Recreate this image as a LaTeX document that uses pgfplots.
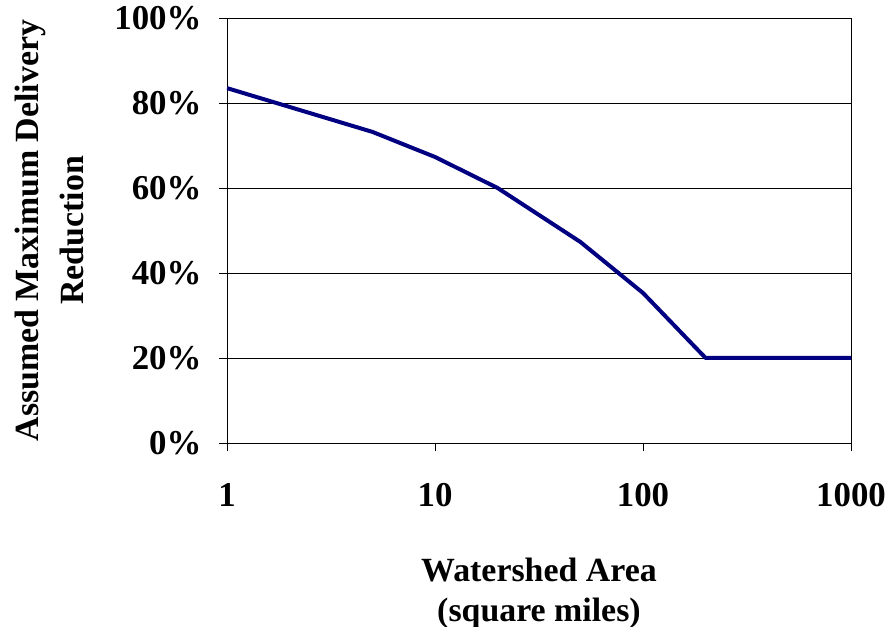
\documentclass[border=0pt]{standalone}
\usepackage{pgfplots}
\pgfplotsset{compat=1.18}
\usepackage{fontspec}
\setmainfont{Liberation Serif}
\definecolor{navyline}{RGB}{0,0,128}
\begin{document}
\begin{tikzpicture}[x=1bp,y=1bp]
\useasboundingbox (-227,-184) rectangle (663,443);
\begin{axis}[
  at={(0,0)}, anchor=south west,
  scale only axis,
  width=624bp, height=425bp,
  xmode=log,
  xmin=1, xmax=1000,
  ymin=0, ymax=100,
  xtick={1,10,100,1000},
  xticklabels={1,10,100,1000},
  ytick={0,20,40,60,80,100},
  yticklabels={0\%,20\%,40\%,60\%,80\%,100\%},
  xminorticks=false,
  tick align=outside,
  xtick pos=bottom, ytick pos=left,
  major tick length=8bp,
  tick style={black, line width=0.9bp},
  ymajorgrids,
  grid style={black, line width=0.9bp},
  axis line style={black, line width=0.9bp},
  ticklabel style={font=\fontsize{35}{39}\selectfont\bfseries},
  xticklabel style={yshift=-29bp},
  yticklabel style={xshift=-14bp},
  xlabel={Watershed Area\\(square miles)},
  ylabel={Assumed Maximum Delivery\\Reduction},
  xlabel style={font=\fontsize{34}{40}\selectfont\bfseries, align=center, yshift=-44bp},
  ylabel style={font=\fontsize{34}{45}\selectfont\bfseries, align=center, yshift=24bp},
]
\addplot[navyline, line width=4bp, line join=round] coordinates {
  (1,83.5) (5,73.2) (10,67.3) (20,60.0) (50,47.3) (100,35.3) (200,20) (1000,20)
};
\end{axis}
\end{tikzpicture}
\end{document}
